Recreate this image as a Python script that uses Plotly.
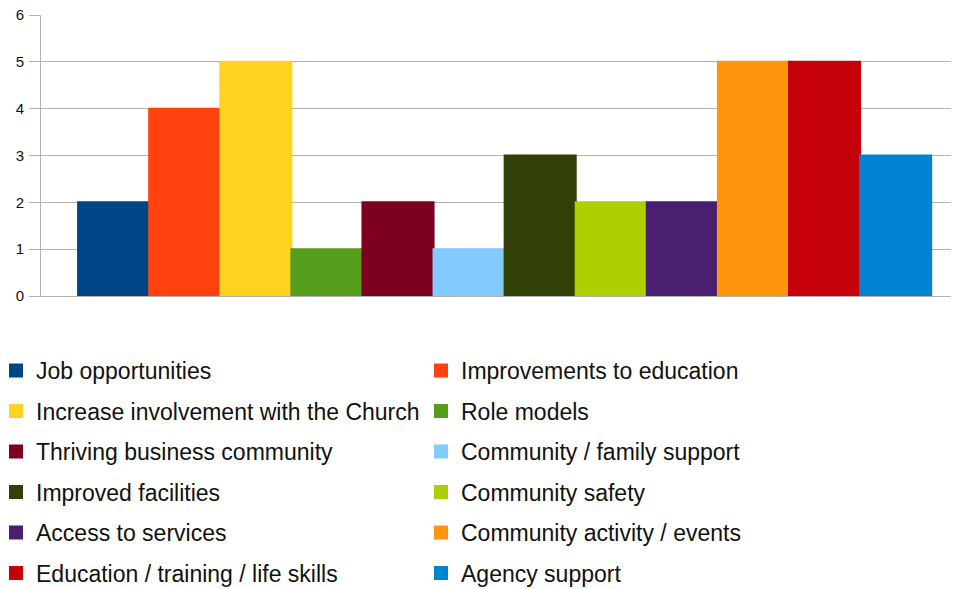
import plotly.graph_objects as go

names = ["Job opportunities", "Improvements to education", "Increase involvement with the Church",
         "Role models", "Thriving business community", "Community / family support",
         "Improved facilities", "Community safety", "Access to services",
         "Community activity / events", "Education / training / life skills", "Agency support"]
values = [2, 4, 5, 1, 2, 1, 3, 2, 2, 5, 5, 3]
colors = ["#004586", "#ff420e", "#ffd320", "#579d1c", "#7e0021", "#83caff",
          "#314004", "#aecf00", "#4b1f6f", "#ff950e", "#c5000b", "#0084d1"]

W, H = 951, 581
L, T, B = 33, 7, 293
PW = W - L
PH = H - T - B

fig = go.Figure()
for i, (n, v, c) in enumerate(zip(names, values, colors)):
    fig.add_trace(go.Bar(x=[""], y=[v], name=n, marker=dict(color=c, line=dict(width=2, color=c)),
                         legend="legend" if i % 2 == 0 else "legend2",
                         legendgroup=f"g{i}"))

leg_common = dict(orientation="v", xref="paper", yref="paper", yanchor="top", xanchor="left",
                  y=(H - B - 341) / PH, font=dict(family="Liberation Sans", size=23, color="#111111"),
                  tracegroupgap=7.6, bgcolor="rgba(0,0,0,0)", traceorder="grouped")
fig.update_layout(
    width=W, height=H,
    margin=dict(l=L, r=0, t=T, b=B, autoexpand=False),
    paper_bgcolor="white", plot_bgcolor="white",
    barmode="group", bargap=0.08, bargroupgap=0,
    showlegend=True,
    legend=dict(x=(-12 - L) / PW, **leg_common),
    legend2=dict(x=(413 - L) / PW, **leg_common),
    xaxis=dict(type="category", range=[-0.5, 0.49], showticklabels=False, showgrid=False,
               showline=True, linecolor="#b3b3b3", linewidth=1, zeroline=False, ticks=""),
    yaxis=dict(range=[0, 6], dtick=1, showgrid=True, gridcolor="#b3b3b3", gridwidth=1,
               showline=True, linecolor="#b3b3b3", linewidth=1, ticks="outside", ticklen=11,
               tickcolor="#b3b3b3", zeroline=False, ticklabelstandoff=2, ticklabeloverflow="allow",
               tickfont=dict(family="Liberation Sans", size=15, color="#111111")),
)
fig.write_html("out.html")
